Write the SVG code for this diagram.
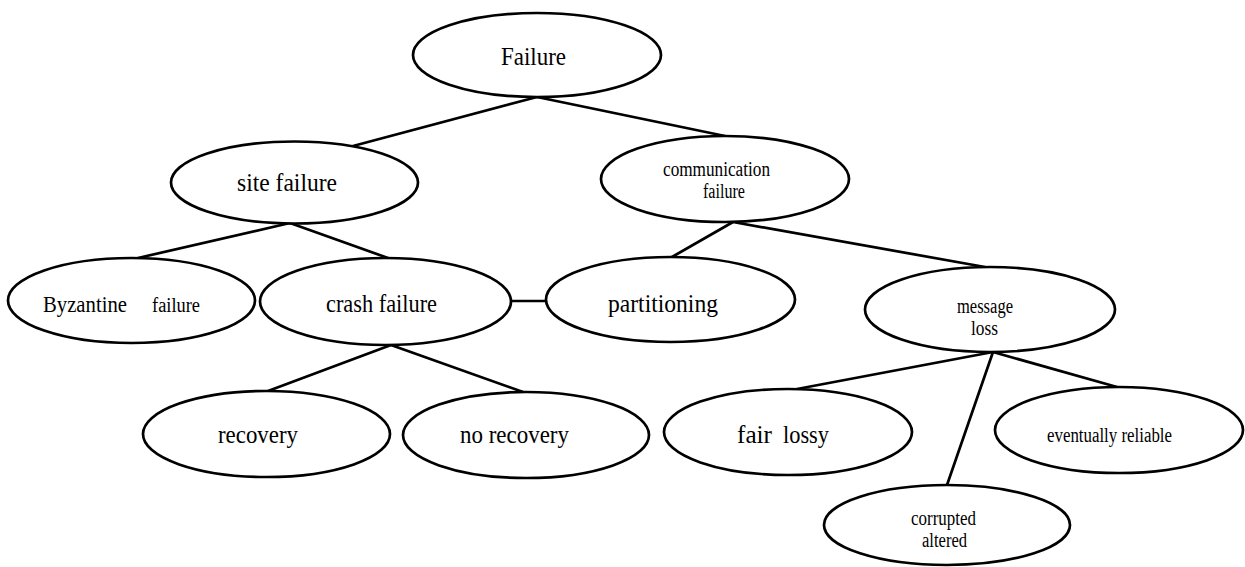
<svg xmlns="http://www.w3.org/2000/svg" width="1245" height="567" viewBox="0 0 1245 567">
<style>
.n{fill:#fff;stroke:#000;stroke-width:2.7}
.c line{stroke:#000;stroke-width:2.7;stroke-linecap:round}
text{font-family:"Liberation Serif","Times New Roman",serif;fill:#000}
.b{font-size:26px}
.s{font-size:20px}
</style>
<rect width="1245" height="567" fill="#fff"/>
<g id="connectors" class="c">
<line x1="537" y1="97" x2="353" y2="146"/>
<line x1="537" y1="97" x2="725" y2="136"/>
<line x1="290" y1="223" x2="138" y2="258"/>
<line x1="290" y1="223" x2="388" y2="258"/>
<line x1="733" y1="222" x2="672" y2="257"/>
<line x1="733" y1="222" x2="985" y2="267"/>
<line x1="511" y1="301" x2="546" y2="301"/>
<line x1="391" y1="345" x2="268" y2="391"/>
<line x1="391" y1="345" x2="523" y2="392"/>
<line x1="993" y1="352" x2="797" y2="389"/>
<line x1="993" y1="352" x2="947" y2="485"/>
<line x1="993" y1="352" x2="1117" y2="387"/>
</g>
<g id="failure">
<ellipse class="n" cx="537" cy="55" rx="124" ry="42"/>
<text class="b" x="501" y="65" textLength="65" lengthAdjust="spacingAndGlyphs">Failure</text>
</g>
<g id="site-failure">
<ellipse class="n" cx="294.5" cy="182.5" rx="123.5" ry="41"/>
<text class="b" x="237" y="191" textLength="100" lengthAdjust="spacingAndGlyphs">site failure</text>
</g>
<g id="communication-failure">
<ellipse class="n" cx="725" cy="179" rx="124" ry="43"/>
<text class="s" x="663" y="176" textLength="107" lengthAdjust="spacingAndGlyphs">communication</text>
<text class="s" x="703" y="198" textLength="42" lengthAdjust="spacingAndGlyphs">failure</text>
</g>
<g id="byzantine-failure">
<ellipse class="n" cx="131.5" cy="300.5" rx="123.5" ry="42.5"/>
<text style="font-size:23px" x="43" y="312" textLength="84" lengthAdjust="spacingAndGlyphs">Byzantine</text>
<text class="s" x="152" y="312" textLength="48" lengthAdjust="spacingAndGlyphs">failure</text>
</g>
<g id="crash-failure">
<ellipse class="n" cx="385.5" cy="301.5" rx="125.5" ry="43.5"/>
<text class="b" x="326" y="312" textLength="111" lengthAdjust="spacingAndGlyphs">crash failure</text>
</g>
<g id="partitioning">
<ellipse class="n" cx="670.5" cy="299.5" rx="124.5" ry="42.5"/>
<text class="b" x="608" y="312" textLength="110" lengthAdjust="spacingAndGlyphs">partitioning</text>
</g>
<g id="message-loss">
<ellipse class="n" cx="990" cy="309.5" rx="125" ry="42.5"/>
<text class="s" x="957" y="313" textLength="56" lengthAdjust="spacingAndGlyphs">message</text>
<text class="s" x="971" y="335" textLength="27" lengthAdjust="spacingAndGlyphs">loss</text>
</g>
<g id="recovery">
<ellipse class="n" cx="266.5" cy="434" rx="123.5" ry="43"/>
<text class="b" x="218" y="443" textLength="80" lengthAdjust="spacingAndGlyphs">recovery</text>
</g>
<g id="no-recovery">
<ellipse class="n" cx="526" cy="435" rx="123" ry="43"/>
<text class="b" x="460" y="443" textLength="109" lengthAdjust="spacingAndGlyphs">no recovery</text>
</g>
<g id="fair-lossy">
<ellipse class="n" cx="788" cy="432" rx="124" ry="43"/>
<text class="b" x="737" y="443" textLength="35" lengthAdjust="spacingAndGlyphs">fair</text>
<text class="b" x="783" y="443" textLength="46" lengthAdjust="spacingAndGlyphs">lossy</text>
</g>
<g id="eventually-reliable">
<ellipse class="n" cx="1119" cy="430" rx="124" ry="43"/>
<text class="s" x="1047" y="442" textLength="125" lengthAdjust="spacingAndGlyphs">eventually reliable</text>
</g>
<g id="corrupted-altered">
<ellipse class="n" cx="947" cy="525" rx="123" ry="40"/>
<text class="s" x="911" y="525" textLength="65" lengthAdjust="spacingAndGlyphs">corrupted</text>
<text class="s" x="922" y="547" textLength="45" lengthAdjust="spacingAndGlyphs">altered</text>
</g>
</svg>
